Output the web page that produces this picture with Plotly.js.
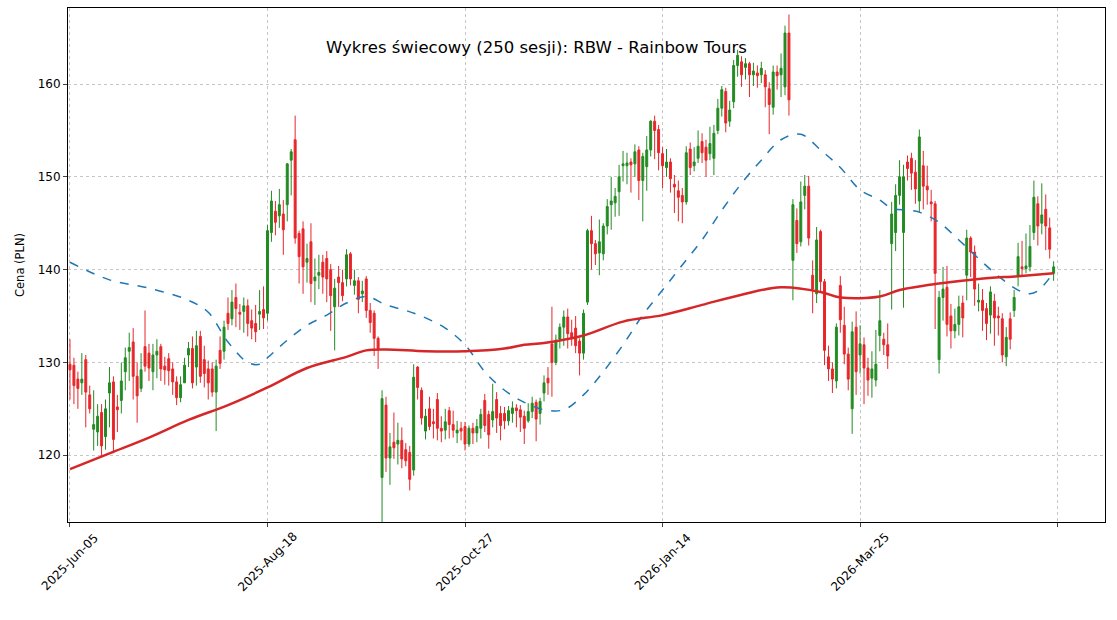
<!DOCTYPE html>
<html>
<head>
<meta charset="utf-8">
<script src="https://cdn.plot.ly/plotly-3.0.1.min.js"></script>
<style>body{margin:0;background:#fff}#chart{width:1117px;height:620px}</style>
</head>
<body>
<div id="chart"></div>
<script>
// OHLC, one value per session
var opens = [129.8,129.7,128.2,127.8,130.3,126.5,122.8,122.5,124.6,122,126.7,127.9,125.2,125.9,129,131.2,132.2,128.5,127.2,131.7,
131,129,130.8,131.7,129.6,130.4,129.3,127.9,126.2,127.8,130.8,131.5,129.5,132.8,130.3,129.3,129.3,126.8,131.3,131.2,
135.3,134.7,137,135.4,135.5,136.1,134.5,134.2,135.2,135.7,135.3,144,146.3,145.8,146,147,151.8,154,143.9,144.4,
140.8,143,138.8,139.4,140.8,141.2,140,136,139.2,138.6,139,141.7,138.3,138.8,137.4,139,135.6,135.3,132.6,117.6,
125.4,119.7,121.4,121.2,121.6,120.6,120.3,118.4,129.5,127,122.6,125,123.6,126,122.9,122.7,124.8,123.3,122.4,122.9,
123.1,121.2,122.9,122.4,122.9,125.9,124.4,123.8,126,124.5,124.5,123.7,124.5,125.1,124.9,124.2,123.7,124.7,125.7,124.5,
126.7,128.3,132,130,132.5,133.8,134.9,133.2,133.7,132.3,131,136.5,144.2,142.8,141.8,141.7,144.7,147,147.2,148.4,
151.2,151.2,151.6,151.4,152.9,149.6,151.1,152.9,156,155.1,152.5,151,151.6,149.2,148.5,148,147.3,153,151.2,152,
153.8,153.2,152.5,152,155,157.4,159.2,156,158.1,162,162.4,161.8,162.2,161,161.2,161,161,159.5,157.5,161.3,
161,159.7,165.5,141,145.3,143,148,149,139.4,137.4,144.1,138.7,130.6,129.3,128,138.3,134,130.9,125,133.8,
130.8,131.9,129.4,128.3,128.1,132.9,132.5,131.9,142.8,144,148,144,151.6,152,150.5,147.4,151.2,149,147.3,147.1,
130.3,137,138.1,135,133.4,134.1,136.4,139.4,143.4,141.9,136.5,136.7,135.8,135.1,136.6,135,134.7,130.6,134.7,135.6,
139.4,140.3,140.1,140.3,144,147.1,145,146.5,144.5,139.6];
var highs = [132.5,130.5,129,131,130.8,127.5,127,125.5,125.5,126,129.5,128.5,126.5,130,131.6,133.2,133.7,130,131,135.6,
132,132,132.5,132,130.6,131,130,128.5,128.5,130.5,132.2,132.8,133.4,133.4,131.8,130.2,130,130.3,132.8,134.5,
137,137.8,138.5,136.3,137,136.8,135.7,136.2,137.8,138.2,144.8,148.5,147.4,148.7,147.5,151.5,153,156.6,144.2,145.2,
142.8,145,141.2,141.6,141.6,142,140.6,139,140.4,140,142.2,141.9,140,139.2,138.8,139.3,136.4,135.6,132.8,127,
126.3,122.4,124.6,123.5,123,121.3,121,129.8,129.6,127.3,125,126.3,125,126.7,124.2,125,125.2,124.8,123.7,123.6,
123.6,123.2,123.5,123.9,125,126.6,124.8,127.7,126.8,125.3,125.2,125.3,125.8,125.5,125.4,124.8,125.6,126.3,126,126.2,
128.6,129.5,136,133,134.2,135.6,135.8,134.6,135,132.6,135.7,144.4,145.8,143.2,145.4,145,147.6,150,148.8,151.3,
152.8,152.6,152,153.5,153.3,152.6,154.4,156.1,156.6,155.6,153.2,153,152,150.2,149.6,148.8,153.3,153.7,153.2,155,
154.7,154,155.4,155.6,158.4,159.8,159.6,158.2,162.6,163.7,163,162.8,162.4,162.3,162,162.4,161.5,160.2,162,162,
163.3,166.3,167.5,147.6,146.6,149.5,150.2,150.1,141,144.6,144.3,139,131.8,130,134.2,139.3,136,131.6,134.4,135.5,
134,132.7,130.5,131.2,133.5,137.8,133.2,134.2,147.3,149.2,151.8,151.3,152.3,152.6,151.8,155.1,152.8,151.2,148.6,147.4,
137.7,140.3,140.4,136.3,135.8,137.2,137.2,144.3,143.6,142.6,138.5,137.9,136.4,138.2,137.4,136,135.3,133.8,135.4,137.8,
142.9,143.1,143.9,144.8,149.6,147.9,149.3,148.1,145.6,140.9];
var lows = [126,125.5,125,126.5,123,124.5,120.5,121,119.8,120.6,123,120.2,122.5,124.5,127,128,126,123.5,126.8,129,
128,127,128.3,128,127.6,127.5,126.5,125.4,125.7,127.8,129.5,127.2,127.5,127.8,127.3,126,126.3,122.6,129.3,130.3,
133.5,134,133.8,133.5,133.2,132.8,132.5,132.2,133.5,133.6,134.5,143,143.7,144.5,141.6,145.2,148,142.8,138.5,137.4,
138.6,136.5,136.2,137.9,137.4,136.5,133.4,131.3,136,136.6,138.2,138.3,137.3,135.3,136.5,134.8,133.2,130.7,129.3,112.8,
118.2,116.8,119.6,119,118.6,118.8,116.2,117.8,126,123.3,121.7,122.7,121.8,121.6,121.4,121.7,121.8,121.9,121.3,121.6,
120.5,120.9,121.2,121.4,121.8,122.5,120.7,123,122.4,121.6,122.8,123.2,123.5,123,122.5,121.2,123.5,124,121.5,123.3,
125.8,126.5,126.3,129.7,131.5,131.8,131.5,131.8,131,128.6,130.3,136.2,140,140.5,139.4,141,143.8,144.3,145.7,145.8,
149.5,149.2,148.3,150,147.5,145.2,148.5,152.2,151.9,150.7,148.8,150,148.3,146.1,145.2,145,147,150.2,150.6,151.5,
151.5,150,151.8,150.2,154.6,156.5,154.8,155.4,157.4,160.8,159.7,160.5,158.6,159.8,159.6,160.1,157.5,154.6,156.7,159.4,
158.6,158.8,156.6,136.7,141.8,142.5,146.5,142.6,135.3,136.4,137.6,129.7,128,126.7,127.2,133.2,129.8,127,122.3,126.5,
128.8,125.5,126.4,126.2,127.4,131.2,130.8,129.3,135.7,142,147,135.9,149.6,148.6,147.1,146.2,146.5,147,145.2,133.6,
128.8,134.5,132.8,131.5,132.6,132.9,132.7,136.7,139.2,136.1,135.5,133.4,132.4,133.1,131.8,132.9,130,129.6,131.4,134.9,
138.2,139.3,139.6,139.8,143.2,142.6,143.8,142.1,141.2,138.8];
var closes = [129.2,127.5,127.2,128.2,126.8,125,123.3,124.2,121,125,127.8,121.7,124.9,128,130.5,131.6,128.5,126.4,129.2,129.6,
129.4,130.8,131.2,129.3,129.2,129.1,127.9,126.2,127.6,129.7,131.5,127.8,131.8,128.5,128.8,127.8,126.8,129.6,129.9,133.8,
134.2,136.5,135.8,135.2,136.1,134.2,133.7,133.3,135.5,134.8,144.2,147.4,145.1,147,144.3,151.4,152.7,143.4,141.4,140.3,
141.2,138.5,139.2,139.7,139.2,139,137.2,138,138.6,137.2,141.6,139,138.8,136.8,137.7,135.6,134.3,132.6,131.5,126.1,
119.7,120.9,120.8,121.6,119.6,119.4,117.4,128.4,127.3,124,124.2,123.1,123.4,122.9,122.6,123.6,123.3,122.7,122.7,122.6,
121.2,122.9,122.4,123.1,124.4,123.2,122.2,124.7,124,123.2,123.7,124.8,125.1,124.8,124.1,122.9,124.7,125.6,123.9,125.8,
127.8,127.8,130,132.4,133.8,134.9,133.1,132.6,131.8,131,135.3,144.2,142.8,141.7,143,144.7,146.8,147.4,147.9,150,
151.4,151.5,151.3,152.7,149.6,152.2,152.9,156,155,152.6,151.2,151.6,149.8,148.9,147.8,147.3,152.6,151,151.6,153.3,
152.6,151.8,153.6,154.7,157.4,159.4,155.8,157.2,162,163.1,161,162.2,161,161.4,160.9,161.7,159.7,157.8,161.3,160.9,
161.7,165.5,158.3,147,142.8,147.3,149,143.4,137.9,143.2,138.7,131.3,129.3,128.2,133.8,134.6,130.9,128.2,133.3,129,
132,129.4,128.1,129.3,129.8,134.5,131.9,130.7,146,148,150,150,150.9,150.4,148.7,154.3,149,148.6,147.1,139.6,
137,137.9,134.1,133.4,134.1,136,134.8,143.4,141.9,137.9,136.7,135.6,134.2,137.6,134.8,134.8,130.8,132.7,132.5,137,
141.4,140.1,140.4,142.5,147.8,144.7,145.9,144.7,142.2,140.3];

// moving averages, read at selected sessions
var maIdx = [0,10,20,30,35,40,45,48,50,55,60,65,70,75,80,85,90,95,100,105,110,115,120,125,130,135,140,145,150,155,160,165,170,175,180,185,190,195,200,205,208,212,215,220,225,230,235,240,243,245,249];
var maShort = [140.8,138.9,138.0,136.7,135.4,132.2,130.0,129.8,130.5,132.4,134.0,135.1,136.4,137.1,136.2,135.6,134.8,133.7,131.9,129.0,127.0,125.7,124.9,124.9,126.5,129.0,131.9,135.1,137.8,140.5,143.2,146.4,149.3,151.8,154.0,154.6,152.9,151.0,148.6,147.5,146.6,146.4,146.2,145.1,143.2,141.2,139.3,137.8,137.4,137.7,139.7];
var longIdx = [0,10,20,30,40,50,60,70,75,80,90,100,110,115,120,130,140,150,160,170,180,190,195,205,210,220,230,240,249];
var maLong = [118.5,120.2,121.9,123.8,125.4,127.3,129.4,130.6,131.3,131.4,131.2,131.2,131.5,131.9,132.1,132.9,134.4,135.1,136.2,137.3,138.1,137.6,137.0,137.1,137.8,138.5,139.0,139.3,139.6];

var tickPos = [0,50,100,150,200,250];
var tickLabels = ['2025-Jun-05','2025-Aug-18','2025-Oct-27','2026-Jan-14','2026-Mar-25',''];

var sessions = [];
for (var i = 0; i < closes.length; i++) sessions.push(i);

var candles = {
    type: 'candlestick',
    x: sessions, open: opens, high: highs, low: lows, close: closes,
    increasing: {line: {color: '#228b22', width: 1}, fillcolor: '#228b22'},
    decreasing: {line: {color: '#e8262a', width: 1}, fillcolor: '#e8262a'},
    whiskerwidth: 0,
    hoverinfo: 'none'
};
var shortLine = {
    type: 'scatter', mode: 'lines', x: maIdx, y: maShort,
    line: {color: '#1f77b4', width: 1.5, dash: 'dash', shape: 'spline'}
};
var longLine = {
    type: 'scatter', mode: 'lines', x: longIdx, y: maLong,
    line: {color: '#d62728', width: 2.5, shape: 'spline'}
};

// rotated date labels centred on their ticks, as in the original
var annotations = [{
    text: 'Wykres świecowy (250 sesji): RBW - Rainbow Tours',
    xref: 'paper', yref: 'paper', x: 0.452, y: 0.923,
    xanchor: 'center', yanchor: 'middle', showarrow: false,
    font: {size: 16.5, color: 'black'}
}];
tickPos.forEach(function (p, k) {
    if (!tickLabels[k]) return;
    annotations.push({
        text: tickLabels[k], x: p, xref: 'x', y: -0.078, yref: 'paper',
        xanchor: 'center', yanchor: 'middle', textangle: -45, showarrow: false,
        font: {size: 12, color: 'black'}
    });
});

var layout = {
    width: 1117, height: 620,
    margin: {l: 68, r: 12, t: 8, b: 98},
    paper_bgcolor: 'white', plot_bgcolor: 'white',
    font: {family: 'DejaVu Sans', size: 12, color: 'black'},
    showlegend: false,
    xaxis: {
        range: [-0.5, 262], rangeslider: {visible: false},
        tickmode: 'array', tickvals: tickPos, ticktext: ['', '', '', '', '', ''],
        ticks: 'outside', ticklen: 4, showline: true, mirror: true, linecolor: 'black',
        showgrid: true, gridcolor: '#b8b8b8', gridwidth: 0.8, griddash: 'dot', zeroline: false
    },
    yaxis: {
        range: [112.8, 168.2], tickvals: [120,130,140,150,160],
        ticks: 'outside', ticklen: 4, showline: true, mirror: true, linecolor: 'black',
        showgrid: true, gridcolor: '#b8b8b8', gridwidth: 0.8, griddash: 'dot', zeroline: false,
        title: {text: 'Cena (PLN)', standoff: 10, font: {size: 11.5}}
    },
    annotations: annotations
};

Plotly.newPlot('chart', [candles, shortLine, longLine], layout, {displayModeBar: false, staticPlot: true});
</script>
</body>
</html>
